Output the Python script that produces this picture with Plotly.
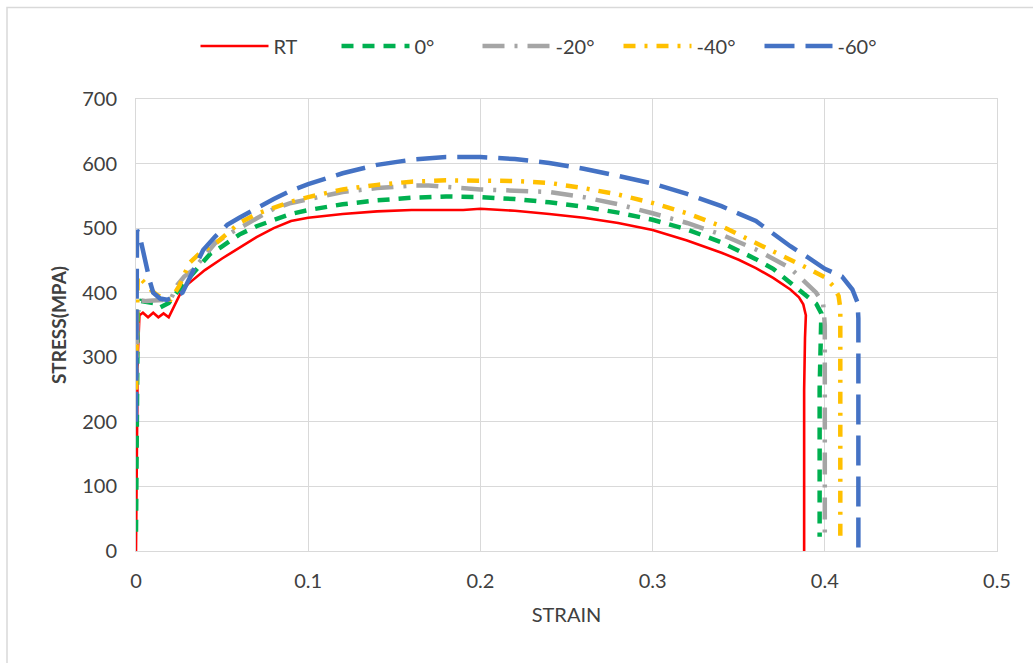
import plotly.graph_objects as go

# ---- data (strain, stress in MPa) ----
rt_x = [0, 0.0005, 0.001, 0.002, 0.004, 0.007, 0.010, 0.013, 0.016, 0.019, 0.022, 0.026, 0.03, 0.04, 0.05,
        0.06, 0.07, 0.08, 0.09, 0.1, 0.12, 0.14, 0.16, 0.18, 0.19, 0.2, 0.21, 0.22, 0.24, 0.26, 0.28,
        0.3, 0.32, 0.34, 0.35, 0.36, 0.37, 0.38, 0.385, 0.3875, 0.389, 0.3885, 0.388, 0.388]
rt_y = [0, 150, 300, 365, 369, 362, 369, 362, 368, 362, 378, 400, 413, 435, 453,
        470, 486, 500, 511, 516, 522, 526, 528, 528, 528, 530, 529, 527, 522, 516, 508,
        497, 481, 462, 451, 438, 423, 405, 393, 382, 365, 330, 250, 0]

c0_x = [0, 0.0005, 0.001, 0.003, 0.006, 0.010, 0.014, 0.019, 0.025, 0.03, 0.036, 0.043, 0.049, 0.06,
        0.07, 0.08, 0.09, 0.1, 0.12, 0.14, 0.16, 0.18, 0.2, 0.22, 0.24, 0.26, 0.28, 0.3, 0.32,
        0.34, 0.36, 0.37, 0.38, 0.39, 0.395, 0.398, 0.3975, 0.397, 0.397]
c0_y = [30, 200, 370, 387, 386, 384, 377, 384, 405, 420, 438, 460, 470, 490,
        503, 513, 522, 528, 537, 543, 547, 549, 548, 545, 540, 533, 524, 513, 498,
        478, 452, 437, 416, 395, 383, 368, 330, 250, 22]

c20_x = [0, 0.0005, 0.001, 0.003, 0.006, 0.010, 0.015, 0.020, 0.024, 0.028, 0.033, 0.04, 0.046, 0.056,
         0.07, 0.08, 0.09, 0.1, 0.12, 0.14, 0.16, 0.17, 0.18, 0.2, 0.22, 0.24, 0.26, 0.28, 0.3,
         0.32, 0.34, 0.36, 0.38, 0.386, 0.395, 0.399, 0.4, 0.4]
c20_y = [250, 345, 370, 388, 387, 388, 388, 389, 412, 425, 435, 458, 477, 494,
         515, 530, 539, 545, 556, 562, 566, 566, 564, 560, 558, 556, 548, 537, 523,
         508, 490, 467, 438, 423, 400, 384, 350, 20]

c40_x = [0, 0.0005, 0.001, 0.004, 0.008, 0.012, 0.016, 0.020, 0.025, 0.031, 0.037, 0.047, 0.06,
         0.07, 0.08, 0.09, 0.1, 0.12, 0.14, 0.16, 0.18, 0.2, 0.22, 0.24, 0.26, 0.28, 0.3,
         0.32, 0.34, 0.36, 0.38, 0.39, 0.4, 0.405, 0.408, 0.409, 0.409]
c40_y = [250, 400, 426, 418, 406, 397, 391, 389, 410, 446, 461, 478, 508,
         522, 532, 541, 548, 560, 567, 572, 574, 574, 573, 570, 562, 552, 539,
         523, 503, 477, 452, 438, 424, 410, 395, 376, 20]

c60_x = [0, 0.0003, 0.0006, 0.002, 0.004, 0.006, 0.008, 0.010, 0.014, 0.018, 0.022, 0.027, 0.033, 0.039,
         0.046, 0.053, 0.06, 0.07, 0.08, 0.09, 0.1, 0.12, 0.14, 0.16, 0.18, 0.2, 0.22, 0.24, 0.26,
         0.28, 0.3, 0.32, 0.34, 0.36, 0.38, 0.39, 0.4, 0.41, 0.416, 0.419, 0.4195, 0.4195]
c60_y = [200, 460, 497, 490, 465, 440, 418, 400, 391, 389, 393, 400, 432, 466,
         487, 505, 516, 531, 545, 558, 568, 585, 598, 606, 610, 610, 607, 601, 592,
         581, 569, 553, 534, 511, 472, 455, 437, 425, 405, 385, 360, 0]

names = ["RT", "0°", "-20°", "-40°", "-60°"]
colors = ["#FF0000", "#00B050", "#A5A5A5", "#FFC000", "#4472C4"]
dashes = ["solid", "12px,9px", "22px,10px,3px,10px", "12px,9px,3px,9px", "30px,11px"]
widths = [2.6, 4.5, 4.5, 4.5, 4.5]
series = [(rt_x, rt_y), (c0_x, c0_y), (c20_x, c20_y), (c40_x, c40_y), (c60_x, c60_y)]

fig = go.Figure()
for (xs, ys), n, c, d, w in zip(series, names, colors, dashes, widths):
    fig.add_trace(go.Scatter(x=xs, y=ys, name=n, mode="lines",
                             line=dict(color=c, dash=d, width=w)))

font_family = "Lato, Liberation Sans, sans-serif"
grid = "#D9D9D9"

L, R, T, B = 136, 36, 99, 112
W, H = 1033, 663
pw, ph = W - L - R, H - T - B

def px_x(p):
    return (p - L) / pw

def px_y(p):
    return (H - B - p) / ph

fig.update_layout(
    width=W, height=H,
    margin=dict(l=L, r=R, t=T, b=B),
    paper_bgcolor="white", plot_bgcolor="white",
    font=dict(family=font_family, color="#404040"),
    legend=dict(orientation="h", x=px_x(548), y=px_y(46), xanchor="center", yanchor="middle",
                font=dict(size=20, color="#404040"), itemwidth=68,
                entrywidth=58, entrywidthmode="pixels", bgcolor="rgba(0,0,0,0)"),
    showlegend=True,
)
fig.update_xaxes(range=[0, 0.5], tickvals=[0, 0.1, 0.2, 0.3, 0.4, 0.5],
                 ticktext=["0", "0.1", "0.2", "0.3", "0.4", "0.5"],
                 showgrid=True, gridcolor=grid, gridwidth=1, zeroline=False,
                 showline=True, linecolor=grid, mirror=True, ticks="",
                 tickfont=dict(size=20, color="#404040"), ticklabelstandoff=12,
                 title=dict(text="STRAIN", font=dict(size=20, color="#404040"), standoff=16))
fig.update_yaxes(range=[0, 700], tickvals=[0, 100, 200, 300, 400, 500, 600, 700],
                 showgrid=True, gridcolor=grid, gridwidth=1, zeroline=False,
                 showline=True, linecolor=grid, mirror=True, ticks="",
                 tickfont=dict(size=20, color="#404040"), ticklabelstandoff=14,
                 title=dict(text="<b>STRESS(MPA)</b>", font=dict(size=19, color="#404040"), standoff=10))

fig.add_shape(type="rect", xref="paper", yref="paper",
              x0=px_x(7), x1=px_x(1045), y0=px_y(675), y1=px_y(7.5),
              line=dict(color=grid, width=1.5), fillcolor="rgba(0,0,0,0)", layer="below")

fig.write_html("out.html")
